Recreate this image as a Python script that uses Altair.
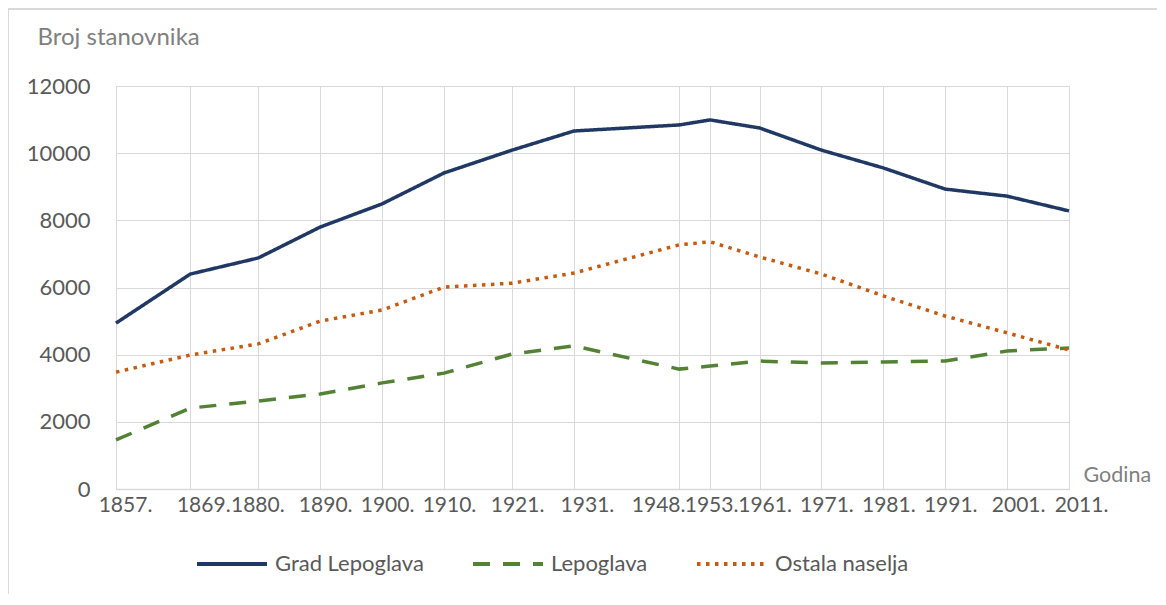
import altair as alt
import pandas as pd

years = [1857, 1869, 1880, 1890, 1900, 1910, 1921, 1931, 1948, 1953, 1961, 1971, 1981, 1991, 2001, 2011]
grad_lepoglava = [4940, 6400, 6880, 7800, 8490, 9410, 10090, 10660, 10840, 10990, 10750, 10090, 9560, 8930, 8720, 8280]
lepoglava = [1460, 2410, 2620, 2830, 3160, 3450, 4020, 4260, 3570, 3660, 3810, 3750, 3780, 3810, 4110, 4200]
ostala_naselja = [3480, 3990, 4320, 5000, 5330, 6010, 6130, 6430, 7270, 7360, 6910, 6400, 5750, 5150, 4650, 4140]
series_names = ["Grad Lepoglava", "Lepoglava", "Ostala naselja"]
series_colors = ["#203864", "#548235", "#C55A11"]
series_dashes = [[1, 0], [17, 13], [3.5, 5.5]]
y_ticks = [0, 2000, 4000, 6000, 8000, 10000, 12000]

# label shifts (pixels) that mimic the original's label placement
label_shift = {1857: 9, 1869: 13, 1880: -1, 1931: 13, 1948: -21, 1953: 1, 2001: 11, 2011: 12}

rows = []
for name, vals in zip(series_names, [grad_lepoglava, lepoglava, ostala_naselja]):
    for yr, v in zip(years, vals):
        rows.append({"Godina": yr, "Broj": v, "Serija": name})
df = pd.DataFrame(rows)

FONT = "Lato"
W, H = 953, 403

label_offset = {
    "condition": [{"test": f"datum.value == {k}", "value": v} for k, v in label_shift.items()],
    "value": 5,
}

legend = alt.Legend(
    title=None, orient="none", legendX=79, legendY=441, direction="horizontal",
    symbolType="stroke", symbolSize=4900, symbolStrokeWidth=4, labelOffset=6,
    columnPadding=41, padding=0, labelFontSize=22, labelColor="#595959", labelFont=FONT,
)

lines = alt.Chart(df).mark_line(strokeWidth=3.5, clip=False).encode(
    x=alt.X("Godina:Q",
            scale=alt.Scale(domain=[1857, 2011], nice=False, zero=False),
            axis=alt.Axis(values=years, labelExpr="datum.value + '.'", grid=True,
                          gridColor="#D9D9D9", domainColor="#D9D9D9", domainWidth=1.5,
                          ticks=False, labelOverlap=False, labelFlush=False, labelBound=False,
                          labelFontSize=21, labelColor="#595959", labelFont=FONT,
                          labelBaseline="top", labelPadding=5, labelOffset=label_offset,
                          title="Godina", titleFont=FONT, titleFontSize=21.5,
                          titleFontWeight="normal", titleColor="#7F7F7F",
                          titleAnchor="start", titleAlign="left", titleBaseline="alphabetic",
                          titleX=967, titleY=-8, titleAngle=0)),
    y=alt.Y("Broj:Q",
            scale=alt.Scale(domain=[0, 12000], nice=False),
            axis=alt.Axis(values=y_ticks, format="d", grid=True, gridColor="#D9D9D9",
                          domain=False, ticks=False, labelPadding=26,
                          labelFontSize=22, labelColor="#595959", labelFont=FONT,
                          title="Broj stanovnika", titleFont=FONT, titleFontSize=24,
                          titleFontWeight="normal", titleColor="#7F7F7F",
                          titleAngle=0, titleAlign="left", titleBaseline="alphabetic",
                          titleX=-79, titleY=-42)),
    color=alt.Color("Serija:N", scale=alt.Scale(domain=series_names, range=series_colors),
                    legend=legend),
    strokeDash=alt.StrokeDash("Serija:N", scale=alt.Scale(domain=series_names, range=series_dashes),
                              legend=legend),
)

frame = alt.Chart(pd.DataFrame({"f": [1]})).mark_rect(
    filled=False, stroke="#D9D9D9", strokeWidth=2, clip=False
).encode(
    x=alt.value(-108), x2=alt.value(W + 300),
    y=alt.value(-77), y2=alt.value(H + 300),
)

chart = alt.layer(frame, lines).properties(
    width=W, height=H,
    autosize=alt.AutoSizeParams(type="none"),
    padding={"left": 108, "top": 78, "right": 88, "bottom": 105},
).configure_view(strokeWidth=0)

chart.save("out.html", embed_options={"renderer": "svg", "actions": False})
